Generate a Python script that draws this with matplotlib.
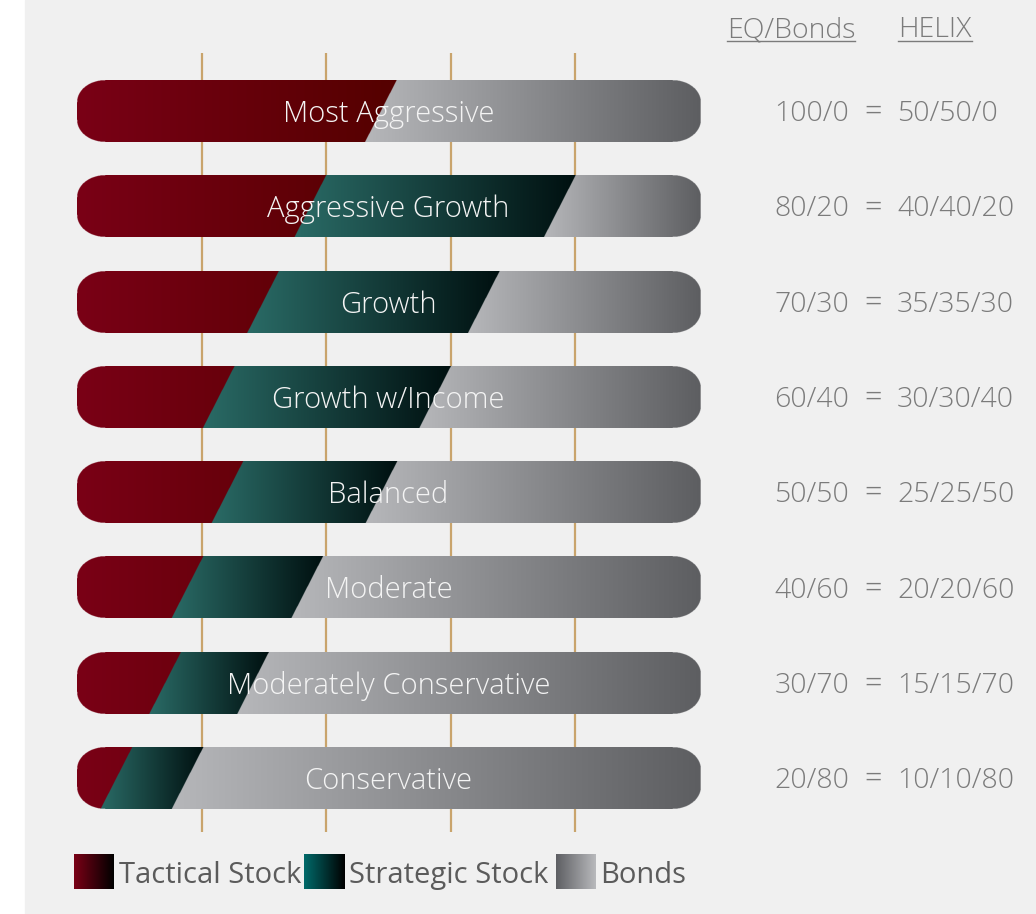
import numpy as np
import matplotlib.pyplot as plt
from matplotlib.colors import to_rgb
from matplotlib.patches import Rectangle

# ---- data ----
profiles = ["Most Aggressive", "Aggressive Growth", "Growth", "Growth w/Income",
            "Balanced", "Moderate", "Moderately Conservative", "Conservative"]
eq_bonds = ["100/0", "80/20", "70/30", "60/40", "50/50", "40/60", "30/70", "20/80"]
helix = ["50/50/0", "40/40/20", "35/35/30", "30/30/40",
         "25/25/50", "20/20/60", "15/15/70", "10/10/80"]
# segment widths as drawn in the picture (percent of bar length)
tactical = [48.7, 37.4, 29.8, 22.7, 24.1, 17.7, 14.1, 6.3]
strategic = [0.0, 40.0, 35.4, 34.7, 24.7, 19.2, 14.1, 11.4]
gridlines = [20, 40, 60, 80]
legend_labels = ["Tactical Stock", "Strategic Stock", "Bonds"]

# ---- layout (pixels per data unit) ----
W, H = 1036, 914
XPX, YPX = 6.23, 95.3
X0, Y0 = 77, 111          # pixel position of x=0 and of first bar centre


def dx(px):
    return (px - X0) / XPX


def dy(px):
    return (px - Y0) / YPX


FONT = ['Open Sans', 'DejaVu Sans']
bar_h = 62 / YPX
slant = 31.5 / XPX
rx, ry = 28 / XPX, 22 / YPX

tact_c = (to_rgb('#7a0016'), to_rgb('#550000'))
strat_c = (to_rgb('#2a6b66'), to_rgb('#001010'))
bond_c = (to_rgb('#b6b7ba'), to_rgb('#5d5e61'))


def lerp(c, f):
    a = np.array(c[0])
    b = np.array(c[1])
    f = np.clip(f, 0, 1)[..., None]
    return a + (b - a) * f


fig = plt.figure(figsize=(W / 100, H / 100), dpi=100, facecolor='white')
ax = fig.add_axes([0, 0, 1, 1])
ax.axis('off')

ax.add_patch(Rectangle((25 / W, 0), 1, 1, transform=ax.transAxes,
                       color='#f0f0f0', zorder=0))

ax.vlines(gridlines, dy(53), dy(832), color='#c9a46c', lw=1.6, zorder=1)

nx, ny = 1900, 190
xs = np.linspace(0, 100, nx)
for i, name in enumerate(profiles):
    top, bot = i - bar_h / 2, i + bar_h / 2
    ys = np.linspace(top, bot, ny)
    X, Y = np.meshgrid(xs, ys)
    t = (Y - top) / bar_h
    shift = slant * (0.5 - t)
    e1 = tactical[i]
    e2 = tactical[i] + strategic[i]
    b1 = e1 + shift
    b2 = e2 + shift

    rgb = lerp(tact_c, X / 50)
    f_s = (X - (e1 - slant / 2)) / max(e2 - e1 + slant, 1e-6)
    f_b = (X - (e2 - slant / 2)) / (100 - e2 + slant / 2)
    sm = (X >= b1) & (X < b2)
    bm = X >= b2
    rgb[sm] = lerp(strat_c, f_s)[sm]
    rgb[bm] = lerp(bond_c, f_b)[bm]

    ddx = np.maximum(np.maximum(rx - X, X - (100 - rx)), 0) / rx
    ddy = np.maximum(np.maximum((top + ry) - Y, Y - (bot - ry)), 0) / ry
    alpha = ((ddx ** 2 + ddy ** 2) <= 1).astype(float)
    img = np.dstack([rgb, alpha])
    ax.imshow(img, extent=(0, 100, bot, top), origin='upper', aspect='auto',
              interpolation='antialiased', zorder=2)

    ax.text(50, i + 11 / YPX, name, ha='center', va='baseline', color='#f4f4f4',
            fontsize=21, family=FONT, fontweight='light', zorder=3)
    ax.text(dx(849), i + 10 / YPX, eq_bonds[i], ha='right', va='baseline',
            color='#7b7b7b', fontsize=20.5, family=FONT, fontweight='light')
    ax.text(dx(873), i + 10 / YPX, '=', ha='center', va='baseline',
            color='#7b7b7b', fontsize=22, family=FONT, fontweight='light')
    ax.text(dx(897), i + 10 / YPX, helix[i], ha='left', va='baseline',
            color='#7b7b7b', fontsize=20.5, family=FONT, fontweight='light')

# column headers with underline
headers = []
for lab, cx in [("EQ/Bonds", 791), ("HELIX", 935)]:
    headers.append(ax.text(dx(cx), dy(37), lab, ha='center', va='baseline',
                           color='#7b7b7b', fontsize=20.5, family=FONT,
                           fontweight='light'))

# legend
sq = [(74, 114), (304, 344), (556, 595)]
sq_c = [('#7a0016', '#000000'), ('#006a6a', '#000000'), ('#5e5f63', '#b8b9bc')]
grad = np.linspace(0, 1, 100)[None, :]
for (a, b), cc, lab in zip(sq, sq_c, legend_labels):
    col = lerp((to_rgb(cc[0]), to_rgb(cc[1])), grad)
    ax.imshow(col, extent=(dx(a), dx(b), dy(889), dy(854)), origin='upper',
              aspect='auto', zorder=2)
    ax.text(dx(b + 5), dy(883), lab, ha='left', va='baseline', color='#5b5b5b',
            fontsize=21, family=FONT)

ax.set_xlim(dx(0), dx(W))
ax.set_ylim(dy(H), dy(0))

fig.canvas.draw()
inv = ax.transData.inverted()
for tx in headers:
    bb = tx.get_window_extent()
    (xa, _), (xb, _) = inv.transform([(bb.x0, 0), (bb.x1, 0)])
    ax.plot([xa, xb], [dy(41), dy(41)], color='#7b7b7b', lw=1.0)
ax.set_xlim(dx(0), dx(W))
ax.set_ylim(dy(H), dy(0))

fig.savefig('out.png', dpi=100, facecolor='white')
